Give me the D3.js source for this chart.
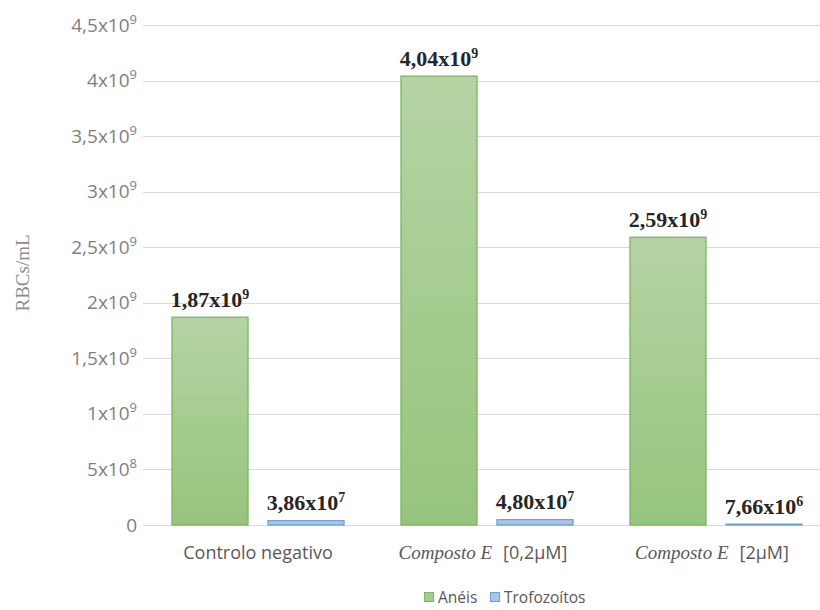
<!DOCTYPE html>
<html>
<head>
<meta charset="utf-8">
<script src="https://cdn.jsdelivr.net/npm/d3@7"></script>
<style>
  html, body { margin: 0; padding: 0; background: #fff; }
  svg { display: block; }
</style>
</head>
<body>
<svg id="chart" width="820" height="610"></svg>
<script>
// Groups on the x axis: italic part (serif) + plain part (sans)
const categories = ["Controlo negativo", "Composto E [0,2µM]", "Composto E [2µM]"];
const categoryItalic = ["", "Composto E", "Composto E"];
const categoryPlain = ["Controlo negativo", "[0,2µM]", "[2µM]"];

const seriesNames = ["Anéis", "Trofozoítos"];
// RBCs/mL per group
const aneis = [1.87e9, 4.04e9, 2.59e9];
const trofozoitos = [3.86e7, 4.80e7, 7.66e6];
// Printed labels: mantissa and exponent
const aneisLabels = [["1,87", "9"], ["4,04", "9"], ["2,59", "9"]];
const trofLabels = [["3,86", "7"], ["4,80", "7"], ["7,66", "6"]];

const yTicks = [0, 5e8, 1e9, 1.5e9, 2e9, 2.5e9, 3e9, 3.5e9, 4e9, 4.5e9];
const yTickLabels = [["0", ""], ["5x10", "8"], ["1x10", "9"], ["1,5x10", "9"], ["2x10", "9"],
                     ["2,5x10", "9"], ["3x10", "9"], ["3,5x10", "9"], ["4x10", "9"], ["4,5x10", "9"]];

const svg = d3.select("#chart");
const left = 143.5, bandW = 229;
const x = d3.scaleBand().domain(categories).range([left, left + bandW * 3]).paddingInner(0).paddingOuter(0);
const y = d3.scaleLinear().domain([0, 4.5e9]).range([525, 25]);

const barW = 77, barGap = 19;

// Vertical gradients for the bars
const defs = svg.append("defs");
const gg = defs.append("linearGradient").attr("id", "gGreen").attr("x1", 0).attr("y1", 0).attr("x2", 0).attr("y2", 1);
gg.append("stop").attr("offset", "0%").attr("stop-color", "#b4d4a4");
gg.append("stop").attr("offset", "100%").attr("stop-color", "#97c47d");
const gb = defs.append("linearGradient").attr("id", "gBlue").attr("x1", 0).attr("y1", 0).attr("x2", 0).attr("y2", 1);
gb.append("stop").attr("offset", "0%").attr("stop-color", "#b0cdee");
gb.append("stop").attr("offset", "100%").attr("stop-color", "#9dbfe6");

// Gridlines
svg.append("g").selectAll("line").data(yTicks).join("line")
  .attr("x1", 143).attr("x2", 820)
  .attr("y1", d => Math.round(y(d)) + 0.5).attr("y2", d => Math.round(y(d)) + 0.5)
  .attr("stroke", "#d9d9d9").attr("stroke-width", 1.2);

// Y tick labels
const yl = svg.append("g").selectAll("text").data(yTicks).join("text")
  .attr("x", 137).attr("y", d => y(d) + 6.5)
  .attr("text-anchor", "end")
  .attr("font-family", "'Open Sans', sans-serif").attr("font-size", 19)
  .attr("fill", "#7f7f7f");
yl.append("tspan").text((d, i) => yTickLabels[i][0]);
yl.append("tspan").attr("dy", -8).attr("font-size", 13).text((d, i) => yTickLabels[i][1]);

// Y axis title
svg.append("text")
  .attr("transform", "translate(29,273) rotate(-90)")
  .attr("text-anchor", "middle")
  .attr("font-family", "'Liberation Serif', 'Times New Roman', serif")
  .attr("font-size", 19).attr("fill", "#8c8c8c")
  .text("RBCs/mL");

// Bars
function groupX(i) { return x(categories[i]) + (bandW - (2 * barW + barGap)) / 2; }

svg.append("g").selectAll("rect").data(aneis).join("rect")
  .attr("x", (d, i) => groupX(i) + 0.5)
  .attr("y", d => y(d))
  .attr("width", barW - 1)
  .attr("height", d => y(0) - y(d))
  .attr("fill", "url(#gGreen)").attr("stroke", "#7cb661").attr("stroke-width", 1.3);

svg.append("g").selectAll("rect").data(trofozoitos).join("rect")
  .attr("x", (d, i) => groupX(i) + barW + barGap + 0.5)
  .attr("y", d => y(d))
  .attr("width", barW - 1)
  .attr("height", d => y(0) - y(d))
  .attr("fill", "url(#gBlue)").attr("stroke", "#6f9fd6").attr("stroke-width", 1.3);

// Value labels
function valueLabels(data, labels, offset) {
  const t = svg.append("g").selectAll("text").data(data).join("text")
    .attr("x", (d, i) => groupX(i) + offset + barW / 2)
    .attr("y", d => y(d) - 10.5)
    .attr("text-anchor", "middle")
    .attr("font-family", "'Liberation Serif', 'Times New Roman', serif")
    .attr("font-weight", "bold").attr("font-size", 22)
    .attr("fill", "#262626");
  t.append("tspan").text((d, i) => labels[i][0] + "x10");
  t.append("tspan").attr("dy", -8).attr("font-size", 14).text((d, i) => labels[i][1]);
}
valueLabels(aneis, aneisLabels, 0);
valueLabels(trofozoitos, trofLabels, barW + barGap);

// X category labels
const xl = svg.append("g").selectAll("text").data(categories).join("text")
  .attr("x", d => x(d) + bandW / 2 - (d.startsWith("Composto") ? 4 : 0))
  .attr("y", 559)
  .attr("text-anchor", "middle")
  .attr("fill", "#595959");
xl.append("tspan").attr("font-family", "'Liberation Serif', serif").attr("font-style", "italic")
  .attr("font-size", 19)
  .text((d, i) => categoryItalic[i]);
xl.append("tspan").attr("font-family", "'Open Sans', sans-serif").attr("font-size", 18)
  .attr("dx", (d, i) => categoryItalic[i] ? 11 : 0)
  .text((d, i) => categoryPlain[i]);

// Legend
const legendColors = ["#a5cc90", "#a6c6ec"];
const legendStroke = ["#7cb661", "#6f9fd6"];
const legend = svg.append("g").attr("transform", "translate(424,598)");
const lx = [0, 66];
seriesNames.forEach((name, i) => {
  const g = legend.append("g").attr("transform", `translate(${lx[i]},0)`);
  g.append("rect").attr("x", 0.5).attr("y", -5.5).attr("width", 9).attr("height", 9)
    .attr("fill", legendColors[i]).attr("stroke", legendStroke[i]).attr("stroke-width", 1);
  g.append("text").attr("x", 14).attr("y", 5)
    .attr("font-family", "'Open Sans', sans-serif").attr("font-size", 15.5).attr("fill", "#595959")
    .text(name);
});
</script>
</body>
</html>
